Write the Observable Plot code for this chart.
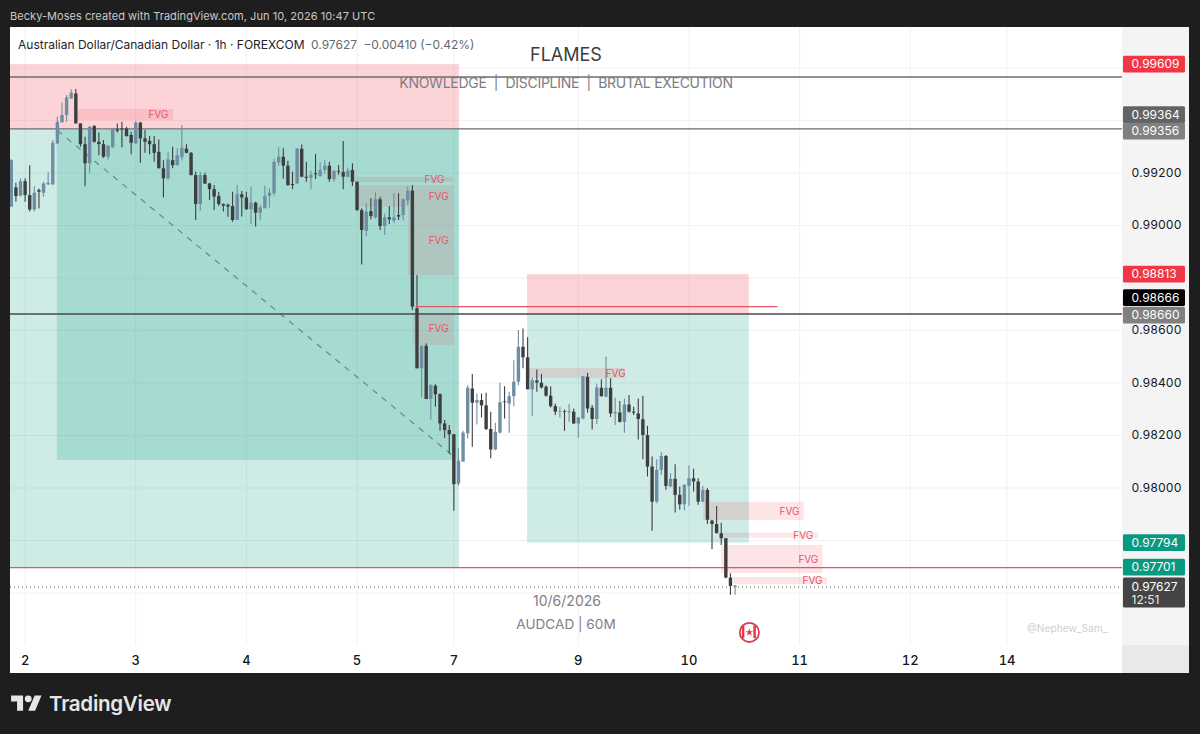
<!DOCTYPE html>
<html><head><meta charset="utf-8">
<script src="https://cdn.jsdelivr.net/npm/d3@7"></script>
<script src="https://cdn.jsdelivr.net/npm/@observablehq/plot@0.6"></script>
<style>
html,body{margin:0;padding:0;background:#1e1e1e;width:1200px;height:734px;overflow:hidden;font-family:Inter,"Noto Sans",sans-serif}
.a{position:absolute;white-space:nowrap;line-height:1}
#chart{position:absolute;left:0;top:0}
</style></head><body>
<div class="a" style="left:10px;top:27px;width:1179px;height:646px;background:#fff"></div>
<div class="a" style="left:1122px;top:27px;width:67px;height:646px;background:#f4f4f5"></div>
<div class="a" style="left:1122px;top:645px;width:67px;height:28px;background:#e9e9ea"></div>
<div id="chart"></div>
<div class="a" style="left:10px;top:11px;font-size:11px;color:#c9c9c9;letter-spacing:.05px">Becky-Moses created with TradingView.com, Jun 10, 2026 10:47 UTC</div>
<div class="a" style="left:18px;top:39px;font-size:12px;color:#1f2228">Australian Dollar/Canadian Dollar · 1h · FOREXCOM <span style="color:#666a72;margin-left:3px">0.97627</span> <span style="color:#666a72;margin-left:3px">−0.00410 (−0.42%)</span></div>
<div class="a" style="left:466px;width:200px;text-align:center;top:46px;font-size:18px;color:#3a3d44">FLAMES</div>
<div class="a" style="left:366px;width:400px;text-align:center;top:76px;font-size:14px;color:#7c7d82;letter-spacing:-.28px">KNOWLEDGE&nbsp; | &nbsp;DISCIPLINE&nbsp; | &nbsp;BRUTAL EXECUTION</div>
<div class="a" style="left:467px;width:200px;text-align:center;top:594px;font-size:14px;color:#808186">10/6/2026</div>
<div class="a" style="left:466px;width:200px;text-align:center;top:618px;font-size:13.6px;color:#808186">AUDCAD | 60M</div>
<div class="a" style="left:1027px;top:623px;font-size:10.2px;color:#cfcfd2">@Nephew_Sam_</div>
<svg class="a" style="left:11px;top:692px" width="31" height="24" viewBox="0 0 36 28"><path fill="#e6e6e6" d="M14 22H7V11H0V4h14v18zM28 22h-8l7.5-18h8L28 22z"/><circle fill="#e6e6e6" cx="20" cy="8" r="4"/></svg>
<div class="a" style="left:49px;top:694px;font-size:20.6px;font-weight:600;color:#e6e6e6;letter-spacing:-.3px">TradingView</div>
<script>
// Candles, in 1e-5 price units, one entry per hourly bar
const opens=[99070,99143,99112,99167,99114,99059,99133,99123,99155,99155,
99311,99391,99419,99482,99501,99387,99308,99235,99377,99317,
99308,99260,99296,99364,99368,99368,99343,99311,99390,99330,
99321,99308,99279,99216,99178,99247,99228,99258,99291,99275,
99190,99080,99190,99158,99137,99110,99080,99077,99072,99019,
99117,99105,99060,99085,99047,99064,99111,99121,99238,99260,
99226,99156,99159,99290,99184,99180,99197,99187,99210,99226,
99175,99206,99202,99184,99210,99165,99057,98978,99053,99029,
99098,98996,99029,99017,99038,99038,99093,99131,98683,98454,
98540,98337,98388,98356,98244,98219,98203,98015,98099,98206,
98377,98323,98333,98313,98223,98145,98209,98328,98320,98348,
98403,98536,98496,98374,98408,98399,98384,98350,98310,98289,
98290,98287,98289,98244,98263,98422,98304,98261,98380,98346,
98380,98282,98286,98250,98316,98289,98282,98260,98200,98080,
97946,98067,98120,98004,98033,97972,97936,98006,98035,98023,
97946,97991,97874,97861,97826,97807,97657,97622];
const highs=[99251,99161,99178,99178,99228,99148,99139,99165,99203,99324,
99412,99467,99495,99517,99518,99387,99336,99377,99381,99352,
99324,99305,99368,99387,99393,99374,99355,99397,99393,99362,
99339,99339,99326,99247,99279,99298,99292,99381,99308,99278,
99203,99203,99199,99161,99152,99127,99082,99082,99127,99152,
99130,99127,99146,99089,99076,99150,99140,99252,99296,99292,
99245,99203,99292,99307,99241,99207,99271,99239,99248,99241,
99210,99229,99320,99218,99235,99165,99064,99083,99102,99125,
99108,99044,99072,99121,99121,99102,99146,99152,98810,98540,
98549,98393,98393,98358,98257,98238,98203,98149,98216,98390,
98432,98358,98358,98361,98289,98247,98399,98386,98365,98485,
98600,98606,98572,98419,98450,98432,98390,98386,98320,98308,
98297,98318,98301,98269,98424,98437,98314,98396,98412,98498,
98416,98342,98330,98339,98352,98308,98339,98350,98235,98118,
98108,98134,98124,98054,98089,98004,98012,98084,98071,98035,
98006,97997,97877,97930,97866,97807,97673,97629];
const lows=[99070,99089,99108,99089,99051,99051,99063,99108,99152,99152,
99308,99391,99393,99480,99387,99298,99148,99197,99313,99266,
99256,99250,99293,99352,99296,99336,99270,99308,99237,99275,
99270,99241,99216,99105,99171,99216,99226,99247,99273,99190,
99019,99054,99156,99095,99057,99072,99051,99031,99012,99019,
99032,99057,99004,98994,99017,99064,99067,99112,99225,99177,
99150,99137,99156,99182,99165,99136,99175,99184,99194,99165,
99165,99191,99136,99182,99149,99053,98850,98956,99022,99025,
98981,98962,99004,99009,99019,99017,99076,98676,98454,98343,
98337,98259,98308,98216,98189,98130,97911,98007,98099,98187,
98155,98240,98267,98219,98111,98142,98206,98263,98209,98310,
98390,98454,98374,98272,98365,98377,98346,98305,98276,98267,
98216,98250,98242,98189,98259,98285,98221,98242,98346,98343,
98269,98238,98248,98209,98285,98276,98183,98108,98042,97835,
97940,98048,97991,98001,97905,97915,97912,97930,97985,97934,
97944,97861,97765,97826,97781,97654,97591,97591];
const closes=[99247,99110,99167,99114,99059,99123,99127,99158,99161,99313,
99393,99419,99486,99504,99387,99308,99235,99374,99317,99308,
99260,99302,99364,99359,99364,99339,99313,99390,99330,99317,
99308,99275,99216,99178,99250,99228,99266,99294,99275,99190,
99080,99190,99158,99137,99108,99080,99074,99070,99019,99118,
99105,99060,99085,99047,99067,99111,99123,99241,99260,99226,
99152,99152,99292,99184,99180,99191,99193,99210,99226,99175,
99206,99203,99184,99207,99165,99057,98981,99051,99034,99098,
98996,99029,99022,99029,99032,99098,99131,98689,98454,98540,
98337,98390,98355,98244,98219,98203,98013,98102,98209,98380,
98323,98333,98313,98223,98145,98212,98325,98325,98348,98403,
98536,98496,98374,98409,98400,98381,98350,98310,98289,98291,
98287,98291,98244,98267,98424,98301,98261,98381,98348,98380,
98282,98287,98250,98316,98289,98285,98261,98200,98080,97946,
98067,98120,98006,98033,97972,97936,98010,98035,98023,97946,
97991,97877,97861,97826,97807,97657,97625,97627];

// Axis ticks
const dayBars=[3,27,51,75,96,123,147,171,195,216];
const dayLabels=["2","3","4","5","7","9","10","11","12","14"];
const priceTicks=[0.992,0.99,0.986,0.984,0.982,0.98];
const priceGrid=[0.996,0.994,0.992,0.99,0.988,0.986,0.984,0.982,0.98,0.978,0.976];

// Position tool zones: [first bar, last bar, upper price, lower price]
const redZones=[[-0.17,97.2,0.99613,0.99362],[112,160.1,0.98813,0.98660]];
const tealZones=[[-0.17,97.2,0.99362,0.97697],[10,97.2,0.99362,0.98105],[112,160.1,0.98660,0.97790]];

// Fair value gaps: [first bar, last bar, upper, lower, label bar, label price]
const fvgs=[[14.4,35.2,0.99442,0.99400,31.9,0.99423],
[74.7,95.9,0.99183,0.99164,91.8,0.99173],
[75.1,96,0.99152,0.99069,92.7,0.99108],
[86.2,96,0.99069,0.98810,92.7,0.98943],
[87.2,96,0.98666,0.98543,92.7,0.98608],
[112.2,133.2,0.98455,0.98417,131.1,0.98436],
[150.2,172,0.97946,0.97876,168.8,0.97910],
[154.5,175.1,0.97828,0.97809,171.8,0.97819],
[154.1,176.1,0.97781,0.97674,172.9,0.97728],
[156.7,177,0.97659,0.97632,173.8,0.97648]];

// Horizontal levels
const grayLevels=[0.99566,0.99368];
const blackLevel=[0.98663];
const redLevel=[0.97697];
const lastPrice=[0.97623];
const shortRed={x1:87.7,x2:166.2,y:0.98691};
const diagonal={x1:10,y1:0.99362,x2:95.7,y2:0.98124};

// Price-scale tags: text, price of the tag centre (tags are pushed apart), colour name
const tagTexts=["0.99609","0.99364","0.99356","0.98813","0.98666","0.98660","0.97794","0.97701"];
const tagPrices=[0.99613,0.99420,0.99358,0.98813,0.98723,0.98657,0.97790,0.97697];
const tagKinds=["red","dark","gray","red","black","gray","teal","teal"];
const lastTag={text:"0.97627",timer:"12:51",top:0.97657,bottom:0.97543};
const eventBar=160.1, eventPrice=0.9745;

const tagColor={red:"#f23645",dark:"#636363",gray:"#808080",black:"#000",teal:"#089981"};
const candles=opens.map((o,i)=>({i,o:o/1e5,h:highs[i]/1e5,l:lows[i]/1e5,c:closes[i]/1e5,up:closes[i]>=o}));
const upC="#6f8ea1",downC="#3e3e40",col=d=>d.up?upC:downC;
const rows=a=>a.map(r=>({x1:r[0],x2:r[1],y1:r[2],y2:r[3],lx:r[4],ly:r[5]}));
const tagX1=241.25,tagX2=254.7,tagXT=243.0,tagH=0.00032;
const tags=tagTexts.map((t,i)=>({t,y:tagPrices[i],c:tagColor[tagKinds[i]]}));
const font="Inter, 'Noto Sans', sans-serif";
const lineEnd=241.04;

const plot=Plot.plot({
  width:1200,height:673,marginLeft:10,marginRight:78,marginTop:27,marginBottom:28,
  style:{background:"transparent",fontFamily:font},
  x:{type:"linear",domain:[-0.17,lineEnd],label:null},
  y:{type:"linear",domain:[0.974,0.997543],label:null},
  marks:[
    Plot.ruleY(priceGrid,{x1:-0.17,x2:lineEnd,stroke:"#f1f1f3",strokeWidth:1}),
    Plot.ruleX(dayBars,{stroke:"#f1f1f3",strokeWidth:1}),
    Plot.rect(rows(redZones),{x1:"x1",x2:"x2",y1:"y1",y2:"y2",fill:"#f23645",fillOpacity:0.21}),
    Plot.rect(rows(tealZones),{x1:"x1",x2:"x2",y1:"y1",y2:"y2",fill:"#089981",fillOpacity:0.2}),
    Plot.rect(rows(fvgs),{x1:"x1",x2:"x2",y1:"y1",y2:"y2",fill:"#f23645",fillOpacity:0.13}),
    Plot.link([diagonal],{x1:"x1",y1:"y1",x2:"x2",y2:"y2",stroke:"#6d8682",strokeWidth:1.2,strokeDasharray:"6 6",markerEnd:"none"}),
    Plot.ruleY(grayLevels,{x1:-0.17,x2:lineEnd,stroke:"#6e6e6e",strokeWidth:1.4}),
    Plot.ruleY(blackLevel,{x1:-0.17,x2:lineEnd,stroke:"#4a4a4c",strokeWidth:1.5}),
    Plot.ruleY(redLevel,{x1:-0.17,x2:lineEnd,stroke:"#e2566a",strokeWidth:1.2}),
    Plot.ruleY(lastPrice,{x1:-0.17,x2:lineEnd,stroke:"#555",strokeWidth:1,strokeDasharray:"1 3"}),
    Plot.ruleX(candles,{x:"i",y1:"l",y2:"h",stroke:col,strokeWidth:1.1,clip:true}),
    Plot.ruleX(candles,{x:"i",y1:"o",y2:"c",stroke:col,strokeWidth:3.4,clip:true}),
    Plot.link([shortRed],{x1:"x1",x2:"x2",y1:"y",y2:"y",stroke:"#e2566a",strokeWidth:1.2}),
    Plot.text(rows(fvgs),{x:"lx",y:"ly",text:()=>"FVG",fill:"#e5546a",fontSize:10,fontFamily:font}),
    Plot.rect(tags,{x1:tagX1,x2:tagX2,y1:d=>d.y+tagH,y2:d=>d.y-tagH,fill:"c",r:1.5}),
    Plot.text(tags,{x:tagXT,y:"y",text:"t",fill:"#fff",fontSize:12,textAnchor:"start",fontFamily:font}),
    Plot.rect([lastTag],{x1:tagX1,x2:tagX2,y1:"top",y2:"bottom",fill:"#454545",r:1.5}),
    Plot.text([lastTag],{x:tagXT,y:d=>d.top-0.00034,text:"text",fill:"#fff",fontSize:12,textAnchor:"start",fontFamily:font}),
    Plot.text([lastTag],{x:tagXT,y:d=>d.bottom+0.00028,text:"timer",fill:"#e8e8e8",fontSize:12,textAnchor:"start",fontFamily:font}),
    Plot.dot([0],{x:eventBar,y:eventPrice,r:9.6,fill:"#fff",stroke:"#e2394c",strokeWidth:1.8}),
    Plot.rect([-1,1],{x1:d=>eventBar+d*0.98,x2:d=>eventBar+d*1.52,y1:eventPrice+0.00024,y2:eventPrice-0.00024,fill:"#e2394c"}),
    Plot.dot([0],{x:eventBar,y:eventPrice,r:2.4,symbol:"star",fill:"#e2394c"}),
    Plot.axisX({ticks:dayBars,tickFormat:d=>dayLabels[dayBars.indexOf(d)],tickSize:0,tickPadding:10,fontSize:13,fontWeight:500,fill:"#131722",label:null,anchor:"bottom"}),
    Plot.axisY({anchor:"right",ticks:priceTicks,tickFormat:d=>d.toFixed(5),tickSize:0,tickPadding:9,fontSize:12,fill:"#131722",label:null})
  ]
});
document.getElementById("chart").appendChild(plot);
</script>
</body></html>
